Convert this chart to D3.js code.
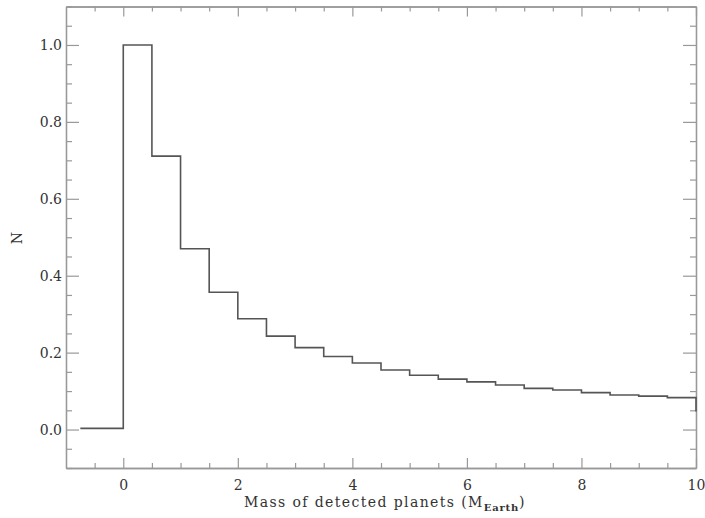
<!DOCTYPE html>
<html>
<head>
<meta charset="utf-8">
<script src="https://cdn.jsdelivr.net/npm/d3@7"></script>
<style>
  body { margin: 0; background: #fff; }
  text { font-family: "DejaVu Serif", serif; fill: #333; }
</style>
</head>
<body>
<div id="chart"></div>
<script>
// Data
var binEdges = [-0.75, 0, 0.5, 1, 1.5, 2, 2.5, 3, 3.5, 4, 4.5, 5, 5.5, 6, 6.5, 7, 7.5, 8, 8.5, 9, 9.5];
var binValues = [0.003, 1.0, 0.711, 0.47, 0.357, 0.288, 0.243, 0.213, 0.19, 0.173, 0.155, 0.141,
    0.131, 0.124, 0.116, 0.107, 0.103, 0.096, 0.090, 0.087, 0.083];
var lastEdge = 10;
var endValue = 0.047;

var xMajor = [0, 2, 4, 6, 8, 10];
var yMajor = [0.0, 0.2, 0.4, 0.6, 0.8, 1.0];

var width = 705, height = 518;
var mLeft = 66, mRight = 696, mTop = 6.5, mBottom = 468;

var svg = d3.select("#chart")
    .append("svg")
    .attr("width", width)
    .attr("height", height);

var x = d3.scaleLinear().domain([-1, 10]).range([mLeft, mRight]);
var y = d3.scaleLinear().domain([-0.1, 1.1]).range([mBottom, mTop]);

var xMinor = d3.range(-0.5, 10.01, 0.5).filter(function(d) { return xMajor.indexOf(d) < 0; });
var yMinor = d3.range(-0.1, 1.101, 0.05).map(function(d) { return +d.toFixed(2); })
    .filter(function(d) { return Math.abs(Math.round(d * 5) - d * 5) > 1e-6; });

var axisColor = "#999";

function styleAxis(g) {
    g.select(".domain").attr("stroke", axisColor).attr("stroke-width", 1.3);
    g.selectAll(".tick line").attr("stroke", axisColor).attr("stroke-width", 1.2);
    g.selectAll(".tick text").style("font-size", "14px").attr("fill", "#333");
}

// bottom
svg.append("g").attr("transform", "translate(0," + mBottom + ")")
    .call(d3.axisBottom(x).tickValues(xMajor).tickSize(-10).tickPadding(12)
        .tickFormat(d3.format("d")).tickSizeOuter(0))
    .call(styleAxis);
svg.append("g").attr("transform", "translate(0," + mBottom + ")")
    .call(d3.axisBottom(x).tickValues(xMinor).tickSize(-5).tickFormat("").tickSizeOuter(0))
    .call(styleAxis);
// top
svg.append("g").attr("transform", "translate(0," + mTop + ")")
    .call(d3.axisTop(x).tickValues(xMajor).tickSize(-10).tickFormat("").tickSizeOuter(0))
    .call(styleAxis);
svg.append("g").attr("transform", "translate(0," + mTop + ")")
    .call(d3.axisTop(x).tickValues(xMinor).tickSize(-5).tickFormat("").tickSizeOuter(0))
    .call(styleAxis);
// left
svg.append("g").attr("transform", "translate(" + mLeft + ",0)")
    .call(d3.axisLeft(y).tickValues(yMajor).tickSize(-13).tickPadding(4)
        .tickFormat(d3.format(".1f")).tickSizeOuter(0))
    .call(styleAxis);
svg.append("g").attr("transform", "translate(" + mLeft + ",0)")
    .call(d3.axisLeft(y).tickValues(yMinor).tickSize(-6).tickFormat("").tickSizeOuter(0))
    .call(styleAxis);
// right
svg.append("g").attr("transform", "translate(" + mRight + ",0)")
    .call(d3.axisRight(y).tickValues(yMajor).tickSize(-13).tickFormat("").tickSizeOuter(0))
    .call(styleAxis);
svg.append("g").attr("transform", "translate(" + mRight + ",0)")
    .call(d3.axisRight(y).tickValues(yMinor).tickSize(-6).tickFormat("").tickSizeOuter(0))
    .call(styleAxis);

// histogram
var pts = binEdges.map(function(e, i) { return [e, binValues[i]]; });
pts.push([lastEdge, binValues[binValues.length - 1]]);
pts.push([lastEdge, endValue]);

var lineFunction = d3.line()
    .x(function(d) { return x(d[0]); })
    .y(function(d) { return y(d[1]); })
    .curve(d3.curveStepAfter);

svg.append("path")
    .attr("d", lineFunction(pts))
    .attr("fill", "none")
    .attr("stroke", "#555")
    .attr("stroke-width", 1.6);

// labels
var xl = svg.append("text")
    .attr("x", 385)
    .attr("y", 507)
    .attr("text-anchor", "middle")
    .style("font-size", "14px")
    .style("letter-spacing", "1.4px");
xl.append("tspan").text("Mass of detected planets (M");
xl.append("tspan").attr("dy", 4).style("font-size", "10px").style("letter-spacing", "0.8px")
    .style("font-weight", "bold").text("Earth");
xl.append("tspan").attr("dy", -4).text(")");

svg.append("text")
    .attr("transform", "translate(22,238) rotate(-90)")
    .attr("text-anchor", "middle")
    .style("font-size", "14px")
    .text("N");
</script>
</body>
</html>
